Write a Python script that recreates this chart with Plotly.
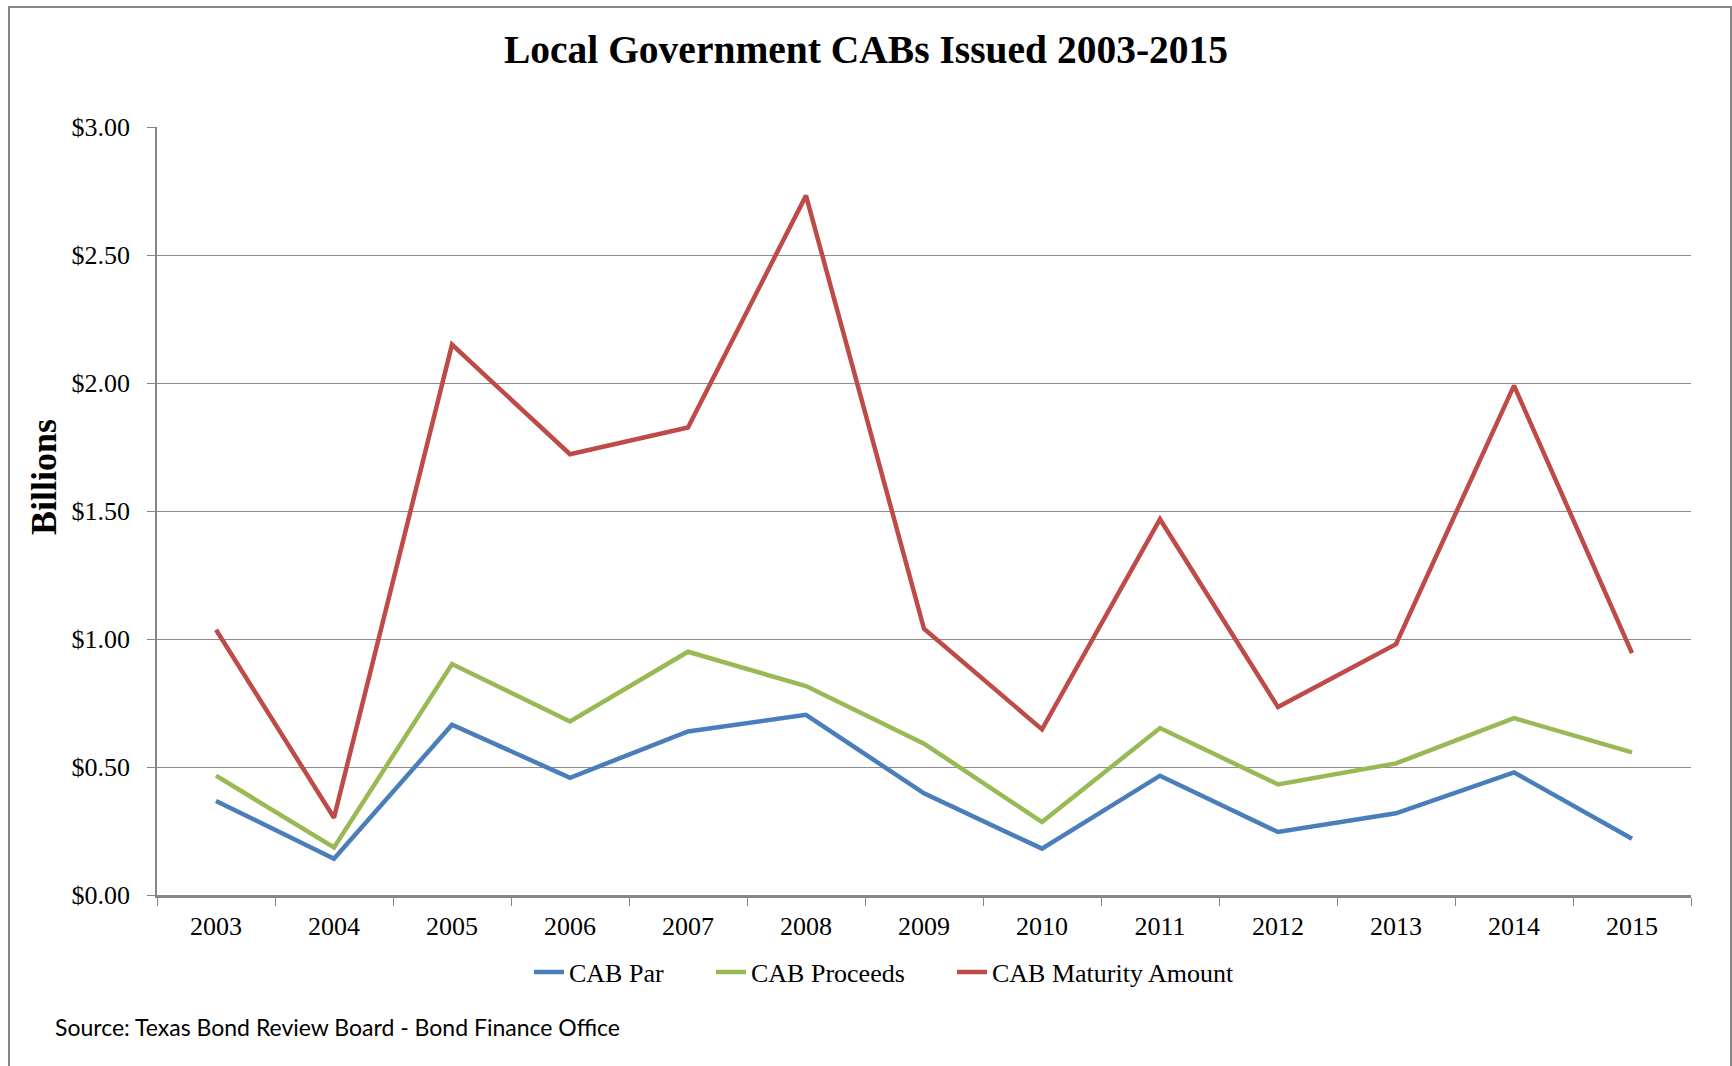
import plotly.graph_objects as go

years = ["2003", "2004", "2005", "2006", "2007", "2008", "2009", "2010", "2011", "2012", "2013", "2014", "2015"]
cab_par = [0.367, 0.142, 0.665, 0.458, 0.639, 0.704, 0.397, 0.181, 0.466, 0.246, 0.319, 0.479, 0.220]
cab_proceeds = [0.466, 0.186, 0.902, 0.678, 0.950, 0.816, 0.591, 0.285, 0.652, 0.432, 0.514, 0.691, 0.557]
cab_maturity = [1.036, 0.302, 2.150, 1.722, 1.826, 2.732, 1.040, 0.647, 1.468, 0.734, 0.980, 1.990, 0.945]

series_names = ["CAB Par", "CAB Proceeds", "CAB Maturity Amount"]
series_values = [cab_par, cab_proceeds, cab_maturity]
series_colors = ["#4a7ebb", "#98b954", "#be4b48"]
legend_ids = ["legend", "legend2", "legend3"]

serif = "Liberation Serif"

PL, PR, PT, PB = 157, 1691, 127, 895
pw, ph = PR - PL, PB - PT


def px_x(x):
    return (x - PL) / pw


def px_y(y):
    return (PB - y) / ph


fig = go.Figure()
for name, vals, color, lg in zip(series_names, series_values, series_colors, legend_ids):
    fig.add_trace(go.Scatter(x=years, y=vals, name=name, mode="lines", legend=lg,
                             line=dict(color=color, width=4.5)))

legend_starts = [537, 719, 960]
legend_common = dict(orientation="h", yanchor="middle", xanchor="left",
                     font=dict(family=serif, size=26, color="black"),
                     bgcolor="rgba(0,0,0,0)", itemwidth=30)

fig.update_layout(
    width=1732, height=1066,
    margin=dict(l=PL, r=1732 - PR, t=PT, b=1066 - PB),
    paper_bgcolor="white", plot_bgcolor="white",
    title=dict(text="<b>Local Government CABs Issued 2003-2015</b>",
               x=0.5, xanchor="center", y=0.954, yanchor="middle",
               font=dict(family=serif, size=39.5, color="black")),
    font=dict(family=serif, color="black"),
    showlegend=True,
    legend=dict(x=px_x(legend_starts[0] - 8), y=px_y(972), **legend_common),
    legend2=dict(x=px_x(legend_starts[1] - 8), y=px_y(972), **legend_common),
    legend3=dict(x=px_x(legend_starts[2] - 8), y=px_y(972), **legend_common),
    xaxis=dict(type="category", range=[-0.5, 12.5], tickson="boundaries",
               ticks="outside", ticklen=8, tickcolor="#868686", tickwidth=1,
               showline=True, linecolor="#868686", linewidth=2.5,
               showgrid=False, tickfont=dict(family=serif, size=26, color="black"),
               ticklabelstandoff=6, zeroline=False),
    yaxis=dict(range=[0, 3], dtick=0.5, tick0=0, tickformat="$.2f",
               ticks="outside", ticklen=8, tickcolor="#868686",
               showline=True, linecolor="#868686", linewidth=1.5,
               showgrid=True, gridcolor="#8c8c8c", gridwidth=1,
               zeroline=False, ticklabelstandoff=12,
               tickfont=dict(family=serif, size=26, color="black")),
)

fig.add_annotation(text="<b>Billions</b>", textangle=-90,
                   xref="paper", yref="paper", x=px_x(44), y=px_y(477),
                   xanchor="center", yanchor="middle", showarrow=False,
                   font=dict(family=serif, size=36, color="black"))

fig.add_annotation(text="Source: Texas Bond Review Board - Bond Finance Office",
                   xref="paper", yref="paper", x=px_x(53), y=px_y(1027),
                   xanchor="left", yanchor="middle", showarrow=False,
                   font=dict(family="Lato", size=23, color="black"))

fig.add_shape(type="rect", xref="paper", yref="paper",
              x0=px_x(9), x1=px_x(1731),
              y0=-0.3, y1=px_y(7),
              line=dict(color="#868686", width=2), fillcolor="rgba(0,0,0,0)", layer="below")

fig.write_html("out.html")
